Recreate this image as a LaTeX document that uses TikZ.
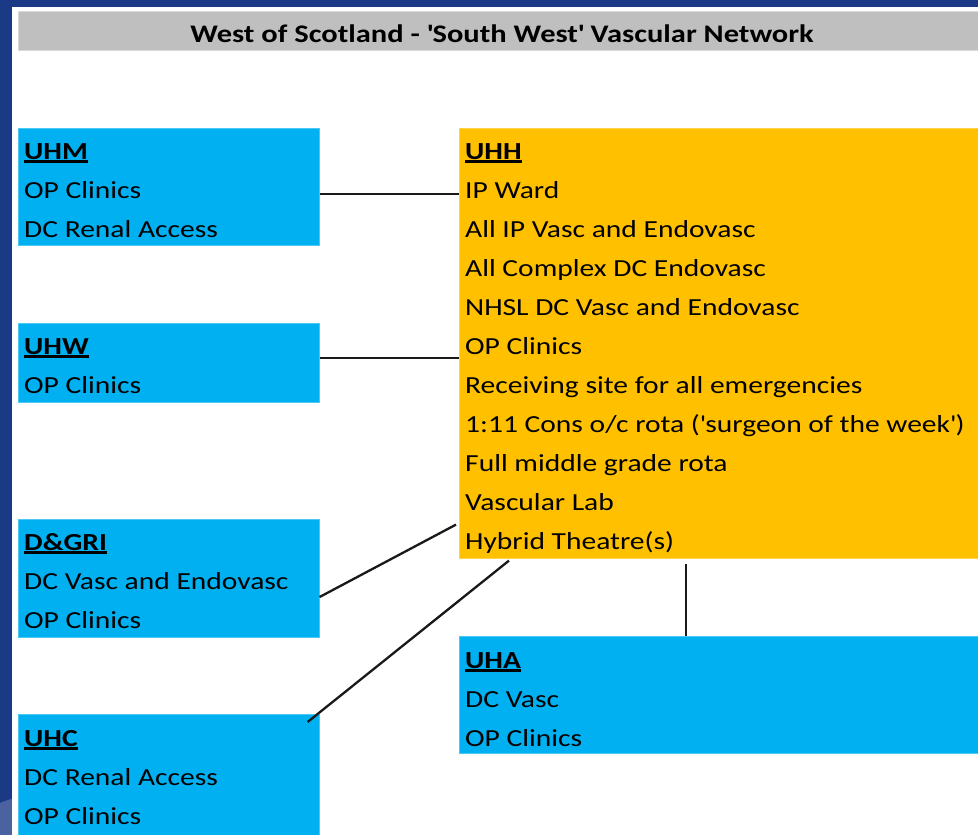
\documentclass[tikz,border=0pt]{standalone}
\usepackage{fontspec}
\setmainfont{Carlito}[FakeStretch=1.205]
\usetikzlibrary{calc}
\definecolor{frameblue}{HTML}{1A3A85}
\definecolor{framelight}{HTML}{4A63A0}
\definecolor{boxblue}{HTML}{00B0F0}
\definecolor{boxorange}{HTML}{FFC000}
\definecolor{titlegrey}{HTML}{BFBFBF}
\newcommand\myul[1]{\setbox0=\hbox{#1}\rlap{\rule[-3.8pt]{\wd0}{2.4pt}}\box0}
\tikzset{
  bluebox/.style={rectangle, fill=boxblue, draw=boxblue!70!white, line width=0.6pt, anchor=north west, inner sep=0pt},
  orangebox/.style={rectangle, fill=boxorange, draw=boxorange!70!white, line width=0.6pt, anchor=north west, inner sep=0pt},
  txt/.style={anchor=base west, inner sep=0pt, font=\fontsize{24.5}{39}\selectfont, text=black},
  head/.style={txt, font=\fontsize{24.5}{39}\selectfont\bfseries},
  link/.style={draw=black!90, line width=2.3pt}
}
\begin{document}
\begin{tikzpicture}[x=1pt,y=-1pt]
\useasboundingbox (0,0) rectangle (978,835);
% frame
\fill[frameblue] (0,0) rectangle (978,835);
\begin{scope}
  \clip (0,0) rectangle (12,835);
  \fill[framelight] (40,900) circle (105);
\end{scope}
\fill[white] (12,7) rectangle (978,835);
% title bar
\node[rectangle, fill=titlegrey, draw=titlegrey!60!white, line width=0.6pt, anchor=north west, inner sep=0pt, minimum width=962pt, minimum height=39pt] (titlebar) at (18,11) {};
\node[anchor=base, inner sep=0pt, font=\fontsize{25.3}{30}\selectfont\bfseries, text=black] (title) at (502,42) {West of Scotland - \textquotesingle South West\textquotesingle{} Vascular Network};
% boxes
\node[bluebox, minimum width=301pt, minimum height=117pt] (uhm) at (18,128) {};
\node[orangebox, minimum width=522pt, minimum height=430pt] (uhh) at (459,128) {};
\node[bluebox, minimum width=301pt, minimum height=79pt] (uhw) at (18,323) {};
\node[bluebox, minimum width=301pt, minimum height=118pt] (dgri) at (18,519) {};
\node[bluebox, minimum width=301pt, minimum height=124pt] (uhc) at (18,714) {};
\node[bluebox, minimum width=522pt, minimum height=117pt] (uha) at (459,636) {};
% UHM text
\node[head] (uhm0) at (24,159) {\myul{UHM}};
\node[txt] (uhm1) at (24,198) {OP Clinics};
\node[txt] (uhm2) at (24,237) {DC Renal Access};
% UHW text
\node[head] (uhw0) at (24,354) {\myul{UHW}};
\node[txt] (uhw1) at (24,393) {OP Clinics};
% D&GRI text
\node[head] (dgri0) at (24,550) {\myul{D\&GRI}};
\node[txt] (dgri1) at (24,589) {DC Vasc and Endovasc};
\node[txt] (dgri2) at (24,628) {OP Clinics};
% UHC text
\node[head] (uhc0) at (24,746) {\myul{UHC}};
\node[txt] (uhc1) at (24,785) {DC Renal Access};
\node[txt] (uhc2) at (24,824) {OP Clinics};
% UHA text
\node[head] (uha0) at (465,668) {\myul{UHA}};
\node[txt] (uha1) at (465,707) {DC Vasc};
\node[txt] (uha2) at (465,746) {OP Clinics};
% UHH text
\node[head] (uhh0) at (465,159) {\myul{UHH}};
\node[txt] (uhh1) at (465,198) {IP Ward};
\node[txt] (uhh2) at (465,237) {All IP Vasc and Endovasc};
\node[txt] (uhh3) at (465,276) {All Complex DC Endovasc};
\node[txt] (uhh4) at (465,315) {NHSL DC Vasc and Endovasc};
\node[txt] (uhh5) at (465,354) {OP Clinics};
\node[txt] (uhh6) at (465,393) {Receiving site for all emergencies};
\node[txt] (uhh7) at (465,432) {1:11 Cons o/c rota (\textquotesingle surgeon of the week\textquotesingle)};
\node[txt] (uhh8) at (465,471) {Full middle grade rota};
\node[txt] (uhh9) at (465,510) {Vascular Lab};
\node[txt] (uhh10) at (465,549) {Hybrid Theatre(s)};
% connectors
\draw[link] ($(uhm.north east)+(0,66)$) coordinate (c1) -- (c1 -| uhh.west);
\draw[link] ($(uhw.north east)+(0,35)$) coordinate (c2) -- (c2 -| uhh.west);
\draw[link] ($(dgri.north east)+(0,78)$) -- ($(uhh.south west)+(-3,-34)$);
\draw[link] ($(uhc.north east)+(-12,8)$) -- ($(uhh.south west)+(50,2)$);
\draw[link] ($(uhh.south west)+(227,5)$) coordinate (c5) -- (c5 |- uha.north);
\end{tikzpicture}
\end{document}
